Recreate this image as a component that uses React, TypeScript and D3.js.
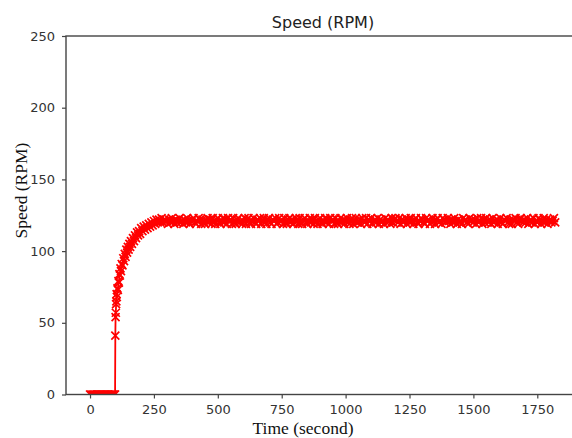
import { useEffect, useRef } from 'react';
import * as d3 from 'd3';

// motor at rest until the step at ~99 s
const idleTimes = [0, 5, 10, 15, 20, 25, 30, 35, 40, 45, 50, 55, 60, 65, 70, 75, 80, 85, 90, 95, 98];
const idleSpeeds = [0, 0, 0, 0, 0, 0, 0, 0, 0, 0, 0, 0, 0, 0, 0, 0, 0, 0, 0, 0, 0];

// climb to speed
const riseTimes = [
  99, 100, 101, 102, 103, 104, 105,
  107, 109, 111, 113, 115, 117, 119, 121,
  124, 127, 130, 133, 136, 139, 142, 145, 148, 151, 154, 157, 160,
  164, 168, 172, 176, 180, 184, 188, 192, 196, 200,
  205, 210, 215, 220, 225, 230, 235, 240, 245, 250, 255, 260, 265, 270, 275, 280, 285, 290, 295,
];
const riseSpeeds = [
  41, 54, 57, 63, 65, 70, 68,
  74, 73, 79, 78, 84, 83, 88, 86,
  91, 90, 95, 93, 98, 96, 101, 99, 103, 101, 105, 103, 107,
  105, 109, 107, 111, 109, 113, 111, 114, 112, 116,
  114, 117, 115, 118, 116, 119, 117, 120, 118, 121, 119, 122, 120, 122, 120, 123, 120, 122, 121,
];

// steady state, one sample every 5 s from 300 s
const plateauStart = 300;
const plateauStep = 5;
const plateauSpeeds = [
  121, 119, 122, 120, 123, 121, 119, 122, 120, 121,
  123, 120, 121, 119, 122, 120, 123, 121, 119, 121,
  122, 123, 120, 119, 121, 123, 122, 119, 122, 120,
  119, 121, 123, 120, 122, 119, 123, 121, 119, 122,
  123, 120, 119, 121, 123, 120, 122, 119, 123, 121,
  122, 119, 123, 120, 119, 122, 123, 120, 121, 119,
  121, 123, 119, 122, 123, 120, 119, 121, 123, 120,
  119, 122, 121, 123, 119, 121, 123, 120, 119, 122,
  123, 120, 119, 122, 121, 123, 119, 120, 123, 121,
  121, 119, 123, 120, 119, 122, 123, 120, 122, 119,
  120, 123, 121, 119, 123, 120, 119, 122, 123, 120,
  119, 121, 123, 120, 122, 119, 123, 121, 119, 122,
  123, 120, 119, 121, 123, 120, 122, 119, 123, 121,
  122, 119, 123, 120, 119, 121, 123, 120, 122, 119,
  121, 123, 120, 119, 122, 123, 119, 121, 123, 120,
  120, 122, 119, 123, 121, 120, 123, 119, 122, 121,
  123, 119, 121, 122, 120, 123, 119, 122, 120, 121,
  119, 123, 120, 122, 121, 119, 123, 120, 122, 123,
  121, 120, 123, 119, 122, 120, 121, 123, 119, 122,
  120, 123, 121, 119, 122, 123, 120, 119, 121, 123,
  122, 120, 119, 123, 121, 122, 119, 120, 123, 121,
  119, 122, 123, 120, 121, 119, 123, 122, 120, 121,
  123, 121, 119, 122, 120, 123, 121, 119, 122, 120,
  121, 119, 123, 121, 122, 120, 119, 123, 121, 122,
  120, 122, 119, 123, 120, 121, 123, 119, 122, 120,
  123, 121, 120, 122, 119, 123, 120, 121, 122, 119,
  121, 123, 120, 119, 122, 121, 123, 120, 119, 122,
  119, 122, 121, 123, 120, 119, 122, 123, 121, 120,
  122, 120, 123, 119, 121, 122, 120, 123, 119, 121,
  120, 123, 122, 119, 121, 123, 120, 122, 119, 121,
  122, 120, 121, 123, 120,
];

const xTicks = [0, 250, 500, 750, 1000, 1250, 1500, 1750];
const yTicks = [0, 50, 100, 150, 200, 250];

const App = () => {
  const svgRef = useRef<SVGSVGElement>(null);
  const width = 572;
  const height = 438;
  const plot = { left: 66, top: 36, right: 581, bottom: 394.5 };

  useEffect(() => {
    const svg = d3.select(svgRef.current);
    svg.selectAll('*').remove();

    const data = idleTimes.map((t, i) => ({ t, v: idleSpeeds[i] }));
    riseTimes.forEach((t, i) => data.push({ t, v: riseSpeeds[i] }));
    plateauSpeeds.forEach((v, i) => data.push({ t: plateauStart + i * plateauStep, v }));

    const xScale = d3.scaleLinear().domain([-94, 1921]).range([plot.left, plot.right]);
    const yScale = d3.scaleLinear().domain([0, 250]).range([plot.bottom, plot.top]);

    svg.append('clipPath')
      .attr('id', 'plot-clip')
      .append('rect')
      .attr('x', plot.left)
      .attr('y', plot.top)
      .attr('width', plot.right - plot.left)
      .attr('height', plot.bottom - plot.top);

    const g = svg.append('g').attr('clip-path', 'url(#plot-clip)');

    const line = d3.line<{ t: number; v: number }>()
      .x(d => xScale(d.t))
      .y(d => yScale(d.v));

    g.append('path')
      .datum(data)
      .attr('d', line)
      .attr('fill', 'none')
      .attr('stroke', '#ff0000')
      .attr('stroke-width', 1.8);

    const m = 4;
    g.append('g')
      .selectAll('path')
      .data(data)
      .join('path')
      .attr('d', d => {
        const x = xScale(d.t);
        const y = yScale(d.v);
        return `M${x - m},${y - m}L${x + m},${y + m}M${x - m},${y + m}L${x + m},${y - m}`;
      })
      .attr('stroke', '#ff0000')
      .attr('stroke-width', 1.7)
      .attr('fill', 'none');

    // frame
    svg.append('rect')
      .attr('x', plot.left)
      .attr('y', plot.top)
      .attr('width', plot.right - plot.left)
      .attr('height', plot.bottom - plot.top)
      .attr('fill', 'none')
      .attr('stroke', '#444')
      .attr('stroke-width', 1.4);

    const xAxis = d3.axisBottom(xScale).tickValues(xTicks).tickFormat(d3.format('d'))
      .tickSize(4).tickPadding(6).tickSizeOuter(0);
    const gx = svg.append('g')
      .attr('transform', `translate(0, ${plot.bottom})`)
      .call(xAxis);
    gx.select('.domain').remove();

    const yAxis = d3.axisLeft(yScale).tickValues(yTicks).tickFormat(d3.format('d'))
      .tickSize(4).tickPadding(7).tickSizeOuter(0);
    const gy = svg.append('g')
      .attr('transform', `translate(${plot.left}, 0)`)
      .call(yAxis);
    gy.select('.domain').remove();

    svg.selectAll('.tick line').attr('stroke', '#444').attr('stroke-width', 1.2);
    svg.selectAll('.tick text')
      .attr('fill', '#333')
      .style('font-family', 'DejaVu Sans')
      .style('font-size', '13px');

    svg.append('text')
      .attr('x', 323)
      .attr('y', 28)
      .attr('text-anchor', 'middle')
      .style('font-family', 'DejaVu Sans')
      .style('font-size', '16px')
      .attr('fill', '#222')
      .text('Speed (RPM)');

    svg.append('text')
      .attr('x', 303)
      .attr('y', 434)
      .attr('text-anchor', 'middle')
      .style('font-family', 'Liberation Serif')
      .style('font-size', '17.5px')
      .attr('fill', '#111')
      .text('Time (second)');

    svg.append('text')
      .attr('transform', 'rotate(-90)')
      .attr('x', -190.5)
      .attr('y', 26.5)
      .attr('text-anchor', 'middle')
      .style('font-family', 'Liberation Serif')
      .style('font-size', '17.5px')
      .attr('fill', '#111')
      .text('Speed (RPM)');
  }, []);

  return (
    <svg
      ref={svgRef}
      width={width}
      height={height}
      style={{ position: 'absolute', left: 0, top: 0, background: '#fff' }}
    ></svg>
  );
};

export default App;
